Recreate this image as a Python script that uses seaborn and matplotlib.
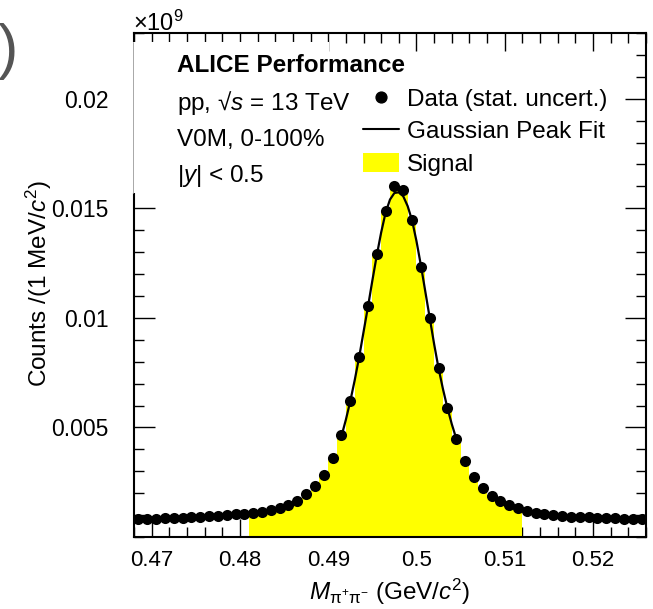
import matplotlib
matplotlib.use("Agg")
import matplotlib.pyplot as plt
import numpy as np
import pandas as pd
import seaborn as sns
from matplotlib.lines import Line2D
from matplotlib.patches import Patch, Rectangle
from matplotlib.ticker import MultipleLocator

# ---------------- data (counts in units of 10^9 per MeV/c^2) ----------------
mass = [0.4685, 0.4695, 0.4705, 0.4715, 0.4725, 0.4735, 0.4745, 0.4755, 0.4765, 0.4775,
        0.4785, 0.4795, 0.4805, 0.4815, 0.4825, 0.4835, 0.4845, 0.4855, 0.4865, 0.4875,
        0.4885, 0.4895, 0.4905, 0.4915, 0.4925, 0.4935, 0.4945, 0.4955, 0.4965, 0.4975,
        0.4985, 0.4995, 0.5005, 0.5015, 0.5025, 0.5035, 0.5045, 0.5055, 0.5065, 0.5075,
        0.5085, 0.5095, 0.5105, 0.5115, 0.5125, 0.5135, 0.5145, 0.5155, 0.5165, 0.5175,
        0.5185, 0.5195, 0.5205, 0.5215, 0.5225, 0.5235, 0.5245, 0.5255]
counts = [0.00081, 0.00082, 0.00083, 0.00085, 0.00086, 0.00088, 0.00090, 0.00092, 0.00094, 0.00097,
          0.00100, 0.00103, 0.00106, 0.00110, 0.00115, 0.00122, 0.00131, 0.00145, 0.00166, 0.00195,
          0.00235, 0.00283, 0.00359, 0.00467, 0.00622, 0.00820, 0.01054, 0.01291, 0.01489, 0.01603,
          0.01584, 0.01447, 0.01234, 0.00998, 0.00770, 0.00587, 0.00449, 0.00348, 0.00275, 0.00225,
          0.00187, 0.00164, 0.00146, 0.00131, 0.00120, 0.00111, 0.00105, 0.00100, 0.00096, 0.00093,
          0.00091, 0.00090, 0.00088, 0.00087, 0.00085, 0.00084, 0.00082, 0.00082]

fit_mass = [0.4915, 0.4920, 0.4925, 0.4930, 0.4935, 0.4940, 0.4945, 0.4950, 0.4955, 0.4960,
            0.4965, 0.4970, 0.4975, 0.4980, 0.4985, 0.4990, 0.4995, 0.5000, 0.5005, 0.5010,
            0.5015, 0.5020, 0.5025, 0.5030, 0.5035, 0.5040, 0.5045]
fit_counts = [0.00460, 0.00535, 0.00620, 0.00715, 0.00820, 0.00935, 0.01050, 0.01170, 0.01285, 0.01390,
              0.01480, 0.01540, 0.01570, 0.01573, 0.01555, 0.01510, 0.01445, 0.01350, 0.01240, 0.01120,
              0.01000, 0.00880, 0.00770, 0.00675, 0.00590, 0.00515, 0.00450]

signal_range = [0.481, 0.512]
bin_width = 0.001

x_ticks = [0.47, 0.48, 0.49, 0.50, 0.51, 0.52]
x_tick_labels = ["0.47", "0.48", "0.49", "0.5", "0.51", "0.52"]
y_ticks = [0.005, 0.010, 0.015, 0.020]
y_tick_labels = ["0.005", "0.01", "0.015", "0.02"]

legend_labels = ["Data (stat. uncert.)", "Gaussian Peak Fit", "Signal"]
info_lines = ["pp, √$s$ = 13 TeV", "V0M, 0-100%", "|$y$| < 0.5"]

# ---------------- style ----------------
sns.set_theme(style="ticks")
plt.rcParams["font.family"] = ["Liberation Sans", "DejaVu Sans"]
plt.rcParams["mathtext.fontset"] = "custom"
plt.rcParams["mathtext.rm"] = "Liberation Sans"
plt.rcParams["mathtext.it"] = "Liberation Sans:italic"
plt.rcParams["mathtext.bf"] = "Liberation Sans:bold"
plt.rcParams["axes.linewidth"] = 1.5
plt.rcParams["text.color"] = "black"
plt.rcParams["axes.labelcolor"] = "black"
plt.rcParams["xtick.color"] = "black"
plt.rcParams["ytick.color"] = "black"

W, H = 653, 609
def fx(x):
    return x / W
def fy(y):
    return 1 - y / H

fig = plt.figure(figsize=(6.53, 6.09), dpi=100)
fig.patch.set_facecolor("white")
ax = fig.add_axes([fx(134), fy(537), 512 / W, 504 / H])
ax.set_facecolor("white")
for s in ax.spines.values():
    s.set_color("black")
    s.set_linewidth(1.5)

df = pd.DataFrame({"mass": mass, "counts": counts})
fit_df = pd.DataFrame({"mass": fit_mass, "counts": fit_counts})

# signal histogram fill (step shape of the data inside the signal window)
sig = df[(df["mass"] > signal_range[0]) & (df["mass"] < signal_range[1])]
edges = list(sig["mass"] - bin_width / 2) + [sig["mass"].iloc[-1] + bin_width / 2]
vals = list(sig["counts"]) + [sig["counts"].iloc[-1]]
ax.fill_between(edges, vals, step="post", color="#ffff00", linewidth=0, zorder=1)

sns.lineplot(data=fit_df, x="mass", y="counts", color="black", linewidth=1.6,
             ax=ax, zorder=3, legend=False, sort=True)
sns.scatterplot(data=df, x="mass", y="counts", color="black", s=64, linewidth=0,
                ax=ax, zorder=4, legend=False)

ax.set_xlim(0.468, 0.526)
ax.set_ylim(0, 0.023)
ax.set_xticks(x_ticks, x_tick_labels)
ax.set_yticks(y_ticks, y_tick_labels)
ax.xaxis.set_minor_locator(MultipleLocator(0.002))
ax.yaxis.set_minor_locator(MultipleLocator(0.001))

ax.tick_params(axis="x", which="major", direction="in", length=13, width=1.0,
               top=True, bottom=True, labelsize=16, pad=9.5)
ax.tick_params(axis="x", which="minor", direction="in", length=7.2, width=1.0,
               top=True, bottom=True)
ax.tick_params(axis="y", which="major", direction="in", length=15, width=1.0,
               left=True, right=True, labelsize=16.5, pad=18.5)
ax.tick_params(axis="y", which="minor", direction="in", length=7.2, width=1.0,
               left=True, right=True)

ax.set_xlabel(r"$M_{\mathrm{\pi}^{+}\mathrm{\pi}^{-}}$ (GeV/$c^{2}$)", fontsize=17.5)
ax.xaxis.label.set_va("center")
ax.xaxis.set_label_coords(0.5, (537 - 592) / 504)
ax.set_ylabel(r"Counts /(1 MeV/$c^{2}$)", fontsize=17.5)
ax.yaxis.label.set_va("center")
ax.yaxis.set_label_coords((39 - 134) / 512, (537 - 284) / 504)

# white text pad covering the upper-left frame region
ax.add_patch(Rectangle((-0.003, (537 - 193) / 504), (330 - 133) / 512, (193 - 42) / 504,
                       transform=ax.transAxes, facecolor="white", edgecolor="none",
                       zorder=2.6, clip_on=False))
ax.plot([-0.002, -0.002], [(537 - 193) / 504, (537 - 42) / 504], transform=ax.transAxes,
        color="#9a9a9a", linewidth=0.6, clip_on=False, zorder=2.7)

# texts
fig.text(fx(177), fy(72), "ALICE Performance", fontsize=17.5, fontweight="bold", va="baseline")
for line, yb in zip(info_lines, [110, 146, 182]):
    fig.text(fx(177), fy(yb), line, fontsize=17.5, va="baseline")
fig.text(fx(133), fy(31), r"×10$^{9}$", fontsize=17, va="baseline")
fig.text(fx(-2), fy(51), ")", fontsize=44, color="#555555", va="center", ha="left")

handles = [Line2D([0], [0], marker="o", linestyle="none", color="black", markersize=7.8),
           Line2D([0], [0], color="black", linewidth=1.5),
           Patch(facecolor="#ffff00", edgecolor="none")]
ax.legend(handles, legend_labels, loc="upper left", bbox_to_anchor=(fx(363), fy(88)),
          bbox_transform=fig.transFigure, frameon=False, fontsize=17.5,
          handlelength=1.48, handleheight=0.82, handletextpad=0.33,
          labelspacing=0.39, borderpad=0, borderaxespad=0)

fig.savefig("out.png", dpi=100, facecolor="white")
